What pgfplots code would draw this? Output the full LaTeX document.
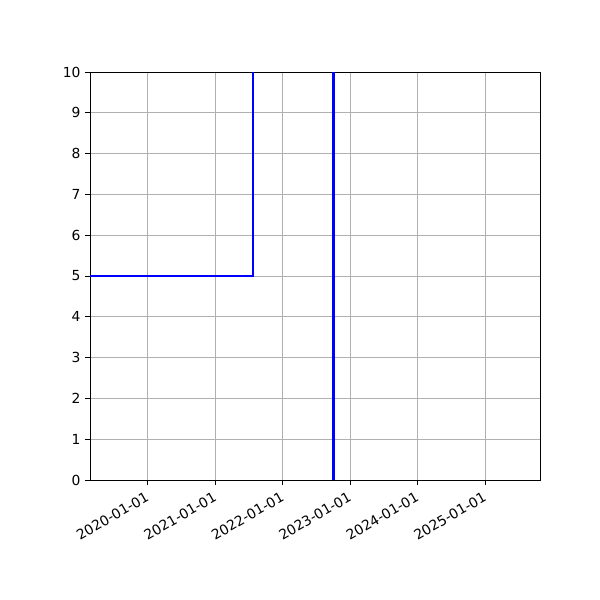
\documentclass[border=0pt]{standalone}
\usepackage{pgfplots}
\pgfplotsset{compat=1.18}
\usepackage{fontspec}
\setmainfont{DejaVu Sans}

\begin{document}
\begin{tikzpicture}
  % x = days since 2020-01-01
  \begin{axis}[
    at={(0,0)}, anchor=south west,
    scale only axis,
    width=337.5pt, height=306pt,
    xmin=-311, xmax=2125,
    ymin=0, ymax=10,
    xtick={0,366,731,1096,1461,1827},
    xticklabels={2020-01-01,2021-01-01,2022-01-01,2023-01-01,2024-01-01,2025-01-01},
    ytick={0,1,...,10},
    tick align=outside,
    tick pos=left,
    major tick length=3.6pt,
    grid=major,
    grid style={color=black!31, line width=0.6pt},
    axis line style={line width=0.6pt},
    every tick/.style={black, line width=0.6pt},
    /pgf/number format/assume math mode=true,
    tick label style={font=\fontsize{10.4}{12}\selectfont},
    xticklabel style={rotate=30, anchor=north east, inner sep=2.5pt, xshift=-1.5pt, yshift=-0.5pt},
  ]
    \addplot[color=blue, line width=1.4pt, mark=none] coordinates
      {(-311,5) (572,5) (572,10)};
    \addplot[color=blue, line width=2pt, mark=none] coordinates
      {(1007,0) (1007,10)};
  \end{axis}
  \path[use as bounding box] (-67.5pt,-90pt) rectangle (382.5pt,360pt);
\end{tikzpicture}
\end{document}
